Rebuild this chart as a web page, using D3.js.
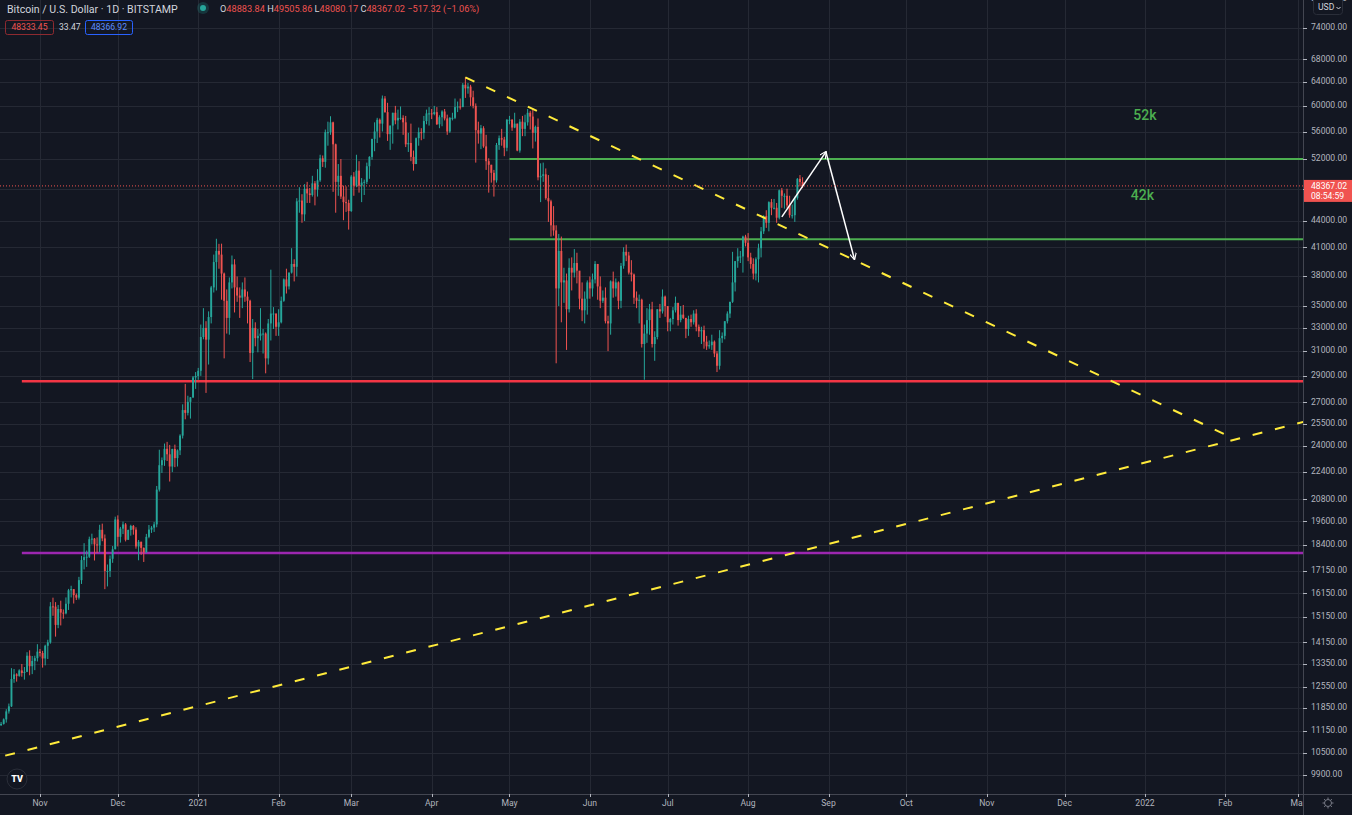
<!DOCTYPE html>
<html>
<head>
<meta charset="utf-8">
<script src="https://cdn.jsdelivr.net/npm/d3@7"></script>
<style>
html, body { margin: 0; padding: 0; background: #131722; overflow: hidden; }
svg { display: block; font-family: Roboto, "Noto Sans", sans-serif; }
</style>
</head>
<body>
<div id="chart"></div>
<script>
const width = 1352;
const height = 815;
const plotRight = 1303;
const plotBottom = 794;

// daily BTC/USD candles, first one is 2020-10-16, open of each day = previous close
const firstDay = '2020-10-16';
const firstOpen = 11500;
const closes = [
    11320, 11360, 11500, 11750, 11910, 12820, 12980, 12930, 13120, 13030, 13070, 13650, 13270, 13460, 13560, 13800,
    13750, 13550, 14020, 14150, 15590, 15580, 14830, 15480, 15330, 15300, 15700, 16280, 16330, 16070, 15960, 16730, 17660, 17800, 17820, 18680, 18710, 18420, 18370, 19160, 18720, 17150, 17150, 17720, 18180, 19700,
    18800, 19220, 19440, 18650, 19150, 19360, 19170, 18320, 18550, 18250, 18040, 18800, 19170, 19270, 19440, 21350, 22800, 23110, 23830, 23480, 22720, 23820, 23240, 23730, 24690, 26450, 26250, 27040, 27370, 28880, 28990,
    29400, 32200, 33000, 31970, 33980, 36800, 39400, 40600, 40200, 38200, 35500, 33900, 37300, 39150, 36800, 36000, 35800, 36600, 35900, 35500, 30850, 33000, 32100, 32300, 32500, 32500, 30400, 33400, 34300, 34300, 33100,
    33500, 35500, 37600, 36900, 38300, 39200, 38900, 46400, 46500, 44800, 48000, 47400, 47200, 48700, 47900, 49100, 52100, 51600, 55900, 55900, 57400, 54100, 48900, 49700, 47000, 46300, 46200, 45200,
    49600, 48400, 50400, 48400, 48800, 48900, 51000, 52300, 54900, 56000, 57800, 57200, 61200, 59000, 55600, 56900, 58900, 57700, 58100, 58100, 57400, 54100, 54300, 52300, 51300, 55000, 55900, 55800, 57600, 58800, 58800,
    58700, 59000, 57100, 58200, 59100, 58000, 56000, 58100, 58100, 59800, 59900, 59800, 63500, 62900, 63200, 61400, 60000, 56200, 55700, 56500, 53800, 51700, 51200, 50100, 49100, 54000, 55000, 54800, 53600, 57800,
    57800, 56600, 57200, 53200, 57500, 56400, 57400, 58900, 58300, 55800, 56700, 49500, 49700, 49900, 46800, 46400, 43500, 42900, 36700, 40600, 37300, 37500, 34700, 38800, 38300, 39300, 38500, 35700, 34600, 35700, 37300,
    36700, 37600, 39200, 36900, 35500, 35800, 33600, 33400, 37400, 36700, 37300, 35500, 39000, 40500, 40100, 38300, 38100, 35800, 35500, 35600, 31600, 32500, 33700, 34700, 31600, 32200, 34700, 34500, 35900, 35000,
    33500, 33800, 34600, 35300, 33700, 34200, 33900, 32900, 33800, 33500, 34300, 33100, 32700, 32800, 31800, 31400, 31500, 31800, 30800, 29800, 32100, 32300, 33600, 34300, 35400, 37300, 39500, 40000, 40000, 42200, 41500,
    39900, 39200, 38200, 39700, 40900, 42800, 44600, 43800, 46300, 45600, 45600, 44400, 47800, 47100, 47100, 45900, 44700, 44700, 46800, 49300, 48883.84, 48367.02
];
const highs = [
    11540, 11420, 11530, 11820, 12000, 13200, 13170, 13020, 13160, 13350, 13240, 13780, 13850, 13640, 13650, 14080,
    13900, 13830, 14060, 14250, 15770, 15960, 15770, 15650, 15830, 15460, 15970, 16340, 16480, 16330, 16140, 16880, 17860, 18480, 18120, 18810, 18960, 18740, 18770, 19420, 19480, 18920, 17450, 17880, 18340, 19850,
    19920, 19310, 19590, 19510, 19170, 19420, 19410, 19290, 18640, 18560, 18270, 18950, 19410, 19350, 19570, 21560, 23770, 23280, 24170, 24280, 24080, 23830, 24100, 23790, 24780, 26860, 28380, 27490, 27390, 28990, 29300,
    29630, 33300, 34800, 33600, 34500, 36950, 40200, 41950, 41380, 41400, 38300, 36600, 37800, 40100, 39700, 37900, 36800, 37300, 37800, 36400, 35600, 33800, 33500, 32900, 34800, 32900, 32600, 33800, 38600, 34900, 34300,
    34700, 35900, 37700, 38700, 38300, 40900, 39700, 46800, 48200, 47300, 48600, 48900, 48100, 49700, 49000, 50600, 52600, 52500, 56300, 57500, 58350, 57500, 54200, 51300, 52000, 48400, 48300, 46600,
    49800, 50200, 52600, 51700, 49400, 49200, 51500, 52400, 54900, 57400, 58100, 58000, 61700, 61600, 60500, 56900, 58900, 60000, 59400, 59900, 58500, 58400, 55800, 57200, 53200, 55100, 56600, 56500, 58400, 59400, 59800,
    59500, 60000, 59800, 58500, 59300, 59500, 58600, 58200, 58900, 61200, 60700, 61200, 63800, 64800, 63800, 63500, 62500, 60400, 57500, 57000, 56800, 55500, 52100, 51200, 50500, 54300, 55400, 56400, 55200, 57900,
    58400, 57900, 58900, 57200, 57900, 58400, 58600, 59500, 59200, 59600, 56900, 58000, 51400, 51500, 50700, 49800, 46600, 45800, 43500, 42500, 42200, 38800, 38200, 39800, 39900, 40800, 40400, 38200, 37300, 36400, 37500,
    37900, 38200, 39500, 39200, 37900, 36500, 36800, 34100, 37500, 38400, 37700, 37400, 39300, 41000, 41300, 40500, 39600, 38200, 36400, 36100, 35700, 33300, 34800, 35200, 35400, 32700, 34700, 35200, 36600, 36000,
    35000, 33900, 34900, 35900, 35300, 35000, 35100, 33900, 34100, 34200, 34600, 34700, 33300, 33100, 33200, 32300, 31900, 32400, 31900, 31000, 32800, 32600, 33600, 34500, 35400, 40500, 39500, 40900, 40600, 42300, 42400,
    42600, 40400, 39800, 39900, 41400, 43300, 44700, 45300, 46400, 46700, 46700, 46200, 47900, 48100, 47400, 48000, 47100, 46000, 47000, 49400, 49800, 49505.86
];
const lows = [
    11220, 11300, 11340, 11400, 11680, 11890, 12690, 12730, 12900, 12900, 12800, 13060, 12950, 12990, 13130, 13440,
    13620, 13220, 13300, 13530, 14100, 15200, 14370, 14700, 14810, 15080, 15260, 15440, 15970, 15710, 15860, 15880, 16560, 17220, 17340, 17760, 18420, 17640, 18000, 18040, 18580, 16330, 16450, 16870, 17530, 18180,
    18320, 18510, 18940, 18570, 18650, 18860, 18910, 18210, 17650, 17910, 17570, 18000, 18730, 19000, 19050, 19290, 21240, 22330, 22760, 23060, 21820, 22380, 22680, 22720, 23430, 24500, 25800, 26070, 25850, 27320, 28000,
    28700, 29000, 32000, 27700, 29900, 33400, 36300, 36500, 38700, 35600, 30400, 32500, 32400, 36700, 34400, 35400, 33900, 34800, 35400, 33400, 30100, 28750, 31400, 30900, 31900, 30800, 29200, 29900, 31900, 32900, 32300,
    32300, 33400, 35400, 36200, 36600, 38200, 37400, 37900, 45000, 43800, 44000, 46200, 46200, 47000, 45900, 47000, 48900, 50900, 50800, 53900, 55500, 47600, 45000, 47100, 46700, 44100, 45100, 43000,
    45100, 47100, 48200, 47500, 46300, 47200, 48600, 49300, 51900, 53100, 54300, 55100, 56000, 58900, 54600, 53300, 54200, 57100, 56300, 57800, 55500, 53700, 53000, 51700, 50400, 51300, 53900, 54700, 54900, 57100, 56900,
    57900, 58500, 57000, 56500, 56800, 57700, 55500, 55800, 57700, 57900, 59000, 59400, 59800, 61300, 62000, 60000, 59600, 51500, 54200, 53400, 53600, 50500, 47500, 48800, 47000, 48800, 53300, 53900, 52400, 53100,
    57100, 56100, 56500, 53100, 52900, 55300, 55300, 56900, 56300, 53500, 54500, 49100, 46300, 48900, 46600, 43900, 42200, 42300, 30000, 35000, 33500, 35300, 31100, 34400, 36500, 37800, 37200, 34700, 33600, 33400, 34200,
    35700, 35900, 37200, 35600, 34800, 35300, 33400, 31000, 32400, 35800, 35900, 34700, 34800, 38700, 39500, 38100, 37400, 35200, 34800, 33400, 31300, 28700, 31700, 32400, 31300, 30200, 32000, 33900, 34300, 34000,
    32700, 32700, 33300, 34400, 33200, 33500, 33800, 32100, 32300, 33100, 33300, 32700, 32200, 31600, 31200, 31100, 31200, 31100, 30500, 29300, 29500, 31700, 32000, 33400, 33900, 35300, 36400, 38800, 39300, 38300, 41100,
    39500, 38700, 37600, 37500, 37300, 39900, 42500, 43200, 42800, 44700, 45400, 43800, 44200, 45600, 45500, 45600, 44400, 44300, 43900, 46600, 48300, 48080.17
];

// price axis (log) and time axis
const priceTicks = [80000, 74000, 68000, 64000, 60000, 56000, 52000, 48000, 44000, 41000, 38000, 35000, 33000, 31000, 29000,
    27000, 25500, 24000, 22400, 20800, 19600, 18400, 17150, 16150, 15150, 14150, 13350, 12550, 11850, 11150, 10500, 9900];
const monthDates = ['2020-11-01', '2020-12-01', '2021-01-01', '2021-02-01', '2021-03-01', '2021-04-01', '2021-05-01', '2021-06-01',
    '2021-07-01', '2021-08-01', '2021-09-01', '2021-10-01', '2021-11-01', '2021-12-01', '2022-01-01', '2022-02-01', '2022-03-01'];
const monthLabels = ['Nov', 'Dec', '2021', 'Feb', 'Mar', 'Apr', 'May', 'Jun', 'Jul', 'Aug', 'Sep', 'Oct', 'Nov', 'Dec', '2022', 'Feb', 'Mar'];

// drawn levels: horizontal lines
const levelPrices = [28580, 18000, 52000, 41900];
const levelStarts = ['2020-10-25', '2020-10-25', '2021-05-01', '2021-05-01'];
const levelTags = ['', '', '52k', '42k'];
const tagDates = ['', '', '2022-01-01', '2021-12-31'];
const tagPrices = [0, 0, 58400, 47000];

// drawn trend lines [date, price] -> [date, price]
const trendStarts = [['2021-04-14', 64800], ['2020-10-10', 10270]];
const trendEnds = [['2022-02-03', 24600], ['2022-03-10', 25940]];

// white projection arrow
const arrowDates = ['2021-08-14', '2021-08-31', '2021-09-11'];
const arrowPrices = [44500, 53000, 39700];

// header values
const symbolTitle = 'Bitcoin / U.S. Dollar · 1D · BITSTAMP';
const ohlcLetters = ['O', 'H', 'L', 'C'];
const ohlcValues = ['48883.84', '49505.86', '48080.17', '48367.02'];
const changeText = '−517.32 (−1.06%)';
const bidText = '48333.45';
const spreadText = '33.47';
const askText = '48366.92';
const lastPrice = 48367.02;
const countdown = '08:54:59';

const upColor = '#26a69a';
const downColor = '#ef5350';
const gridColor = '#252934';
const textColor = '#b2b5be';

const x = d3.scaleUtc()
    .domain([new Date(monthDates[0]), new Date(monthDates[monthDates.length - 1])])
    .range([40, 1298]);
const y = d3.scaleLog()
    .domain([9900, 74000])
    .range([775, 28]);

const candles = closes.map(function (c, i) {
    return {
        date: d3.utcDay.offset(new Date(firstDay), i),
        open: i === 0 ? firstOpen : closes[i - 1],
        high: highs[i],
        low: lows[i],
        close: c
    };
});

const svg = d3.select('#chart')
    .append('svg')
    .attr('width', width)
    .attr('height', height);

svg.append('rect')
    .attr('width', width)
    .attr('height', height)
    .attr('fill', '#131722');

const defs = svg.append('defs');
defs.append('clipPath').attr('id', 'plotClip')
    .append('rect').attr('x', 0).attr('y', 0).attr('width', plotRight).attr('height', plotBottom);
defs.append('clipPath').attr('id', 'timeClip')
    .append('rect').attr('x', 0).attr('y', plotBottom).attr('width', plotRight).attr('height', height - plotBottom);
defs.append('marker')
    .attr('id', 'arrowHead')
    .attr('viewBox', '0 0 10 10')
    .attr('refX', 9)
    .attr('refY', 5)
    .attr('markerWidth', 7)
    .attr('markerHeight', 7)
    .attr('markerUnits', 'userSpaceOnUse')
    .attr('orient', 'auto')
    .append('path')
    .attr('d', 'M0,0 L10,5 L0,10')
    .attr('fill', 'none')
    .attr('stroke', '#ffffff')
    .attr('stroke-width', 1.6);

const plot = svg.append('g').attr('clip-path', 'url(#plotClip)');

// grid
plot.selectAll('.hgrid')
    .data(priceTicks)
    .join('line')
    .attr('class', 'hgrid')
    .attr('x1', 0).attr('x2', plotRight)
    .attr('y1', d => Math.round(y(d)) + 0.5)
    .attr('y2', d => Math.round(y(d)) + 0.5)
    .attr('stroke', gridColor);
plot.selectAll('.vgrid')
    .data(monthDates)
    .join('line')
    .attr('class', 'vgrid')
    .attr('x1', d => Math.round(x(new Date(d))) + 0.5)
    .attr('x2', d => Math.round(x(new Date(d))) + 0.5)
    .attr('y1', 0).attr('y2', plotBottom)
    .attr('stroke', gridColor);

// horizontal levels
const levelStyle = [
    { color: '#f23645', w: 2.5 },
    { color: '#9c27b0', w: 2.5 },
    { color: '#4caf50', w: 2 },
    { color: '#4caf50', w: 2 }
];
plot.selectAll('.level')
    .data(levelPrices)
    .join('line')
    .attr('class', 'level')
    .attr('x1', (d, i) => x(new Date(levelStarts[i])))
    .attr('x2', plotRight)
    .attr('y1', d => y(d))
    .attr('y2', d => y(d))
    .attr('stroke', (d, i) => levelStyle[i].color)
    .attr('stroke-width', (d, i) => levelStyle[i].w);

// candles
plot.selectAll('.wick')
    .data(candles)
    .join('line')
    .attr('class', 'wick')
    .attr('x1', d => x(d.date))
    .attr('x2', d => x(d.date))
    .attr('y1', d => y(d.high))
    .attr('y2', d => y(d.low))
    .attr('stroke', d => d.close >= d.open ? upColor : downColor)
    .attr('stroke-width', 1);
plot.selectAll('.body')
    .data(candles)
    .join('rect')
    .attr('class', 'body')
    .attr('x', d => x(d.date) - 0.95)
    .attr('width', 1.9)
    .attr('y', d => y(Math.max(d.open, d.close)))
    .attr('height', d => Math.max(1, Math.abs(y(d.open) - y(d.close))))
    .attr('fill', d => d.close >= d.open ? upColor : downColor);

// dashed trend lines
plot.selectAll('.trend')
    .data(trendStarts)
    .join('line')
    .attr('class', 'trend')
    .attr('x1', d => x(new Date(d[0])))
    .attr('y1', d => y(d[1]))
    .attr('x2', (d, i) => x(new Date(trendEnds[i][0])))
    .attr('y2', (d, i) => y(trendEnds[i][1]))
    .attr('stroke', '#ffeb3b')
    .attr('stroke-width', 2)
    .attr('stroke-dasharray', '10,13');

// projection arrow
const arrowPts = arrowDates.map((d, i) => [x(new Date(d)), y(arrowPrices[i])]);
for (let i = 0; i < arrowPts.length - 1; i++) {
    plot.append('line')
        .attr('x1', arrowPts[i][0]).attr('y1', arrowPts[i][1])
        .attr('x2', arrowPts[i + 1][0]).attr('y2', arrowPts[i + 1][1])
        .attr('stroke', '#ffffff')
        .attr('stroke-width', 1.5)
        .attr('marker-end', 'url(#arrowHead)');
}

// level tags
plot.selectAll('.tag')
    .data(levelTags.filter(t => t))
    .join('text')
    .attr('class', 'tag')
    .attr('x', t => x(new Date(tagDates[levelTags.indexOf(t)])))
    .attr('y', t => y(tagPrices[levelTags.indexOf(t)]))
    .attr('text-anchor', 'middle')
    .attr('dominant-baseline', 'middle')
    .attr('fill', '#4caf50')
    .attr('font-size', 14)
    .attr('font-weight', 500)
    .text(t => t);

// last price dotted line
plot.append('line')
    .attr('x1', 0).attr('x2', plotRight)
    .attr('y1', y(lastPrice)).attr('y2', y(lastPrice))
    .attr('stroke', downColor)
    .attr('stroke-width', 1)
    .attr('stroke-dasharray', '1,2');

// axis borders
svg.append('line')
    .attr('x1', plotRight + 0.5).attr('x2', plotRight + 0.5)
    .attr('y1', 0).attr('y2', height)
    .attr('stroke', '#434651');
svg.append('line')
    .attr('x1', 0).attr('x2', width)
    .attr('y1', plotBottom + 0.5).attr('y2', plotBottom + 0.5)
    .attr('stroke', '#434651');

// price axis
const yAxisG = svg.append('g');
yAxisG.selectAll('.ytick')
    .data(priceTicks)
    .join('line')
    .attr('x1', plotRight).attr('x2', plotRight + 4)
    .attr('y1', d => Math.round(y(d)) + 0.5)
    .attr('y2', d => Math.round(y(d)) + 0.5)
    .attr('stroke', textColor);
yAxisG.selectAll('.ylabel')
    .data(priceTicks)
    .join('text')
    .attr('x', plotRight + 8)
    .attr('y', d => y(d))
    .attr('dominant-baseline', 'middle')
    .attr('fill', textColor)
    .attr('font-size', 8.6)
    .text(d => d3.format('.2f')(d));

// time axis
const xAxisG = svg.append('g').attr('clip-path', 'url(#timeClip)');
xAxisG.selectAll('.xtick')
    .data(monthDates)
    .join('line')
    .attr('x1', d => Math.round(x(new Date(d))) + 0.5)
    .attr('x2', d => Math.round(x(new Date(d))) + 0.5)
    .attr('y1', plotBottom).attr('y2', plotBottom + 3)
    .attr('stroke', textColor);
xAxisG.selectAll('.xlabel')
    .data(monthDates)
    .join('text')
    .attr('x', d => x(new Date(d)))
    .attr('y', plotBottom + 10)
    .attr('text-anchor', 'middle')
    .attr('dominant-baseline', 'middle')
    .attr('fill', textColor)
    .attr('font-size', 8.6)
    .text((d, i) => monthLabels[i]);

// last price badge
const py = y(lastPrice);
svg.append('rect')
    .attr('x', plotRight + 1).attr('y', py - 6)
    .attr('width', width - plotRight - 1).attr('height', 22)
    .attr('fill', '#f05350');
svg.append('text')
    .attr('x', plotRight + 8).attr('y', py + 0.5)
    .attr('dominant-baseline', 'middle')
    .attr('fill', '#ffffff')
    .attr('font-size', 8.6)
    .text(d3.format('.2f')(lastPrice));
svg.append('text')
    .attr('x', plotRight + 8).attr('y', py + 10.5)
    .attr('dominant-baseline', 'middle')
    .attr('fill', '#ffffff')
    .attr('font-size', 8.6)
    .text(countdown);

// currency button
svg.append('rect')
    .attr('x', 1313.5).attr('y', -4.5)
    .attr('width', 29).attr('height', 19).attr('rx', 3)
    .attr('fill', '#131722').attr('stroke', '#2a2e39');
svg.append('text')
    .attr('x', 1318).attr('y', 8)
    .attr('dominant-baseline', 'middle')
    .attr('fill', '#d1d4dc')
    .attr('font-size', 8.6)
    .text('USD');
svg.append('path')
    .attr('d', 'M1336.5,7 L1338.5,9 L1340.5,7')
    .attr('fill', 'none')
    .attr('stroke', '#d1d4dc');

// settings gear
const gear = svg.append('g').attr('transform', 'translate(1328,803)');
gear.append('circle').attr('r', 3.5).attr('fill', 'none').attr('stroke', '#787b86').attr('stroke-width', 1);
d3.range(8).forEach(function (k) {
    const a = k * Math.PI / 4;
    gear.append('line')
        .attr('x1', Math.cos(a) * 3.5).attr('y1', Math.sin(a) * 3.5)
        .attr('x2', Math.cos(a) * 5.5).attr('y2', Math.sin(a) * 5.5)
        .attr('stroke', '#787b86').attr('stroke-width', 1);
});

// logo
svg.append('circle')
    .attr('cx', 17).attr('cy', 779).attr('r', 10)
    .attr('fill', '#131722').attr('stroke', '#2a2e39');
svg.append('text')
    .attr('x', 17).attr('y', 779.5)
    .attr('text-anchor', 'middle')
    .attr('dominant-baseline', 'middle')
    .attr('fill', '#ffffff')
    .attr('font-size', 9)
    .attr('font-weight', 900)
    .text('TV');

// header
svg.append('text')
    .attr('x', 7).attr('y', 12.5)
    .attr('fill', '#d1d4dc')
    .attr('font-size', 10.6)
    .text(symbolTitle);
svg.append('circle').attr('cx', 203).attr('cy', 8).attr('r', 6).attr('fill', 'rgba(38,166,154,0.22)');
svg.append('circle').attr('cx', 203).attr('cy', 8).attr('r', 3).attr('fill', upColor);

const ohlc = svg.append('text')
    .attr('x', 220).attr('y', 12)
    .attr('font-size', 9.2)
    .style('white-space', 'pre');
ohlcLetters.forEach(function (l, i) {
    ohlc.append('tspan').attr('fill', '#d1d4dc').text((i ? ' ' : '') + l);
    ohlc.append('tspan').attr('fill', downColor).text(ohlcValues[i]);
});
ohlc.append('tspan').attr('fill', downColor).text(' ' + changeText);

svg.append('rect')
    .attr('x', 5.5).attr('y', 20.5).attr('width', 48).attr('height', 14).attr('rx', 2)
    .attr('fill', 'none').attr('stroke', '#8e2a30');
svg.append('text')
    .attr('x', 29.5).attr('y', 28)
    .attr('text-anchor', 'middle').attr('dominant-baseline', 'middle')
    .attr('fill', downColor).attr('font-size', 8.6)
    .text(bidText);
svg.append('text')
    .attr('x', 59).attr('y', 28)
    .attr('dominant-baseline', 'middle')
    .attr('fill', '#d1d4dc').attr('font-size', 8.6)
    .text(spreadText);
svg.append('rect')
    .attr('x', 85.5).attr('y', 20.5).attr('width', 47).attr('height', 14).attr('rx', 2)
    .attr('fill', 'none').attr('stroke', '#2962ff');
svg.append('text')
    .attr('x', 109).attr('y', 28)
    .attr('text-anchor', 'middle').attr('dominant-baseline', 'middle')
    .attr('fill', '#5b8cff').attr('font-size', 8.6)
    .text(askText);
</script>
</body>
</html>
